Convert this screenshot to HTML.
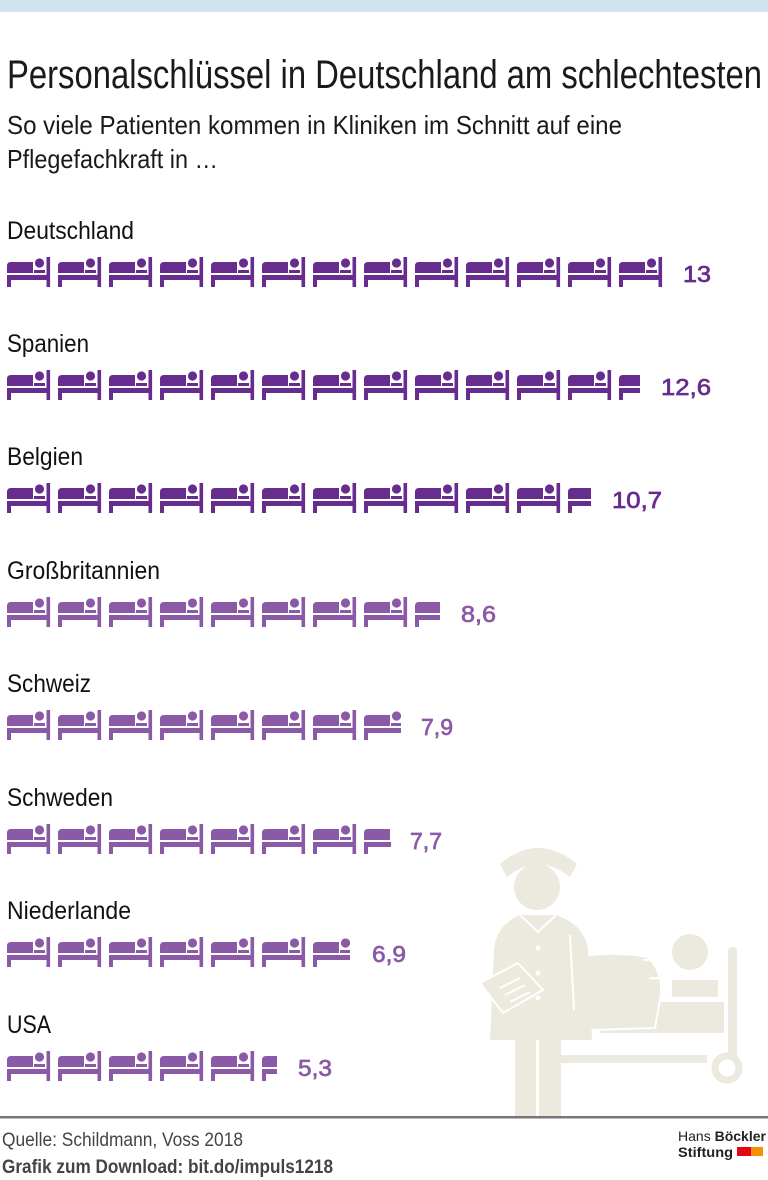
<!DOCTYPE html>
<html><head><meta charset="utf-8"><style>
html,body{margin:0;padding:0;background:#fff;}
svg{display:block;}
text{font-family:"Liberation Sans",sans-serif;}
.v{font-size:23px;stroke-width:0.7px;}
</style></head><body>
<svg width="768" height="1180" viewBox="0 0 768 1180" xmlns="http://www.w3.org/2000/svg">
<defs>
<g id="bed">
<path d="M0,9 Q0,5 4,5 L26,5 L26,16 L0,16 Z"/>
<circle cx="32.5" cy="6" r="4.6"/>
<rect x="27" y="13" width="11" height="3"/>
<rect x="39.5" y="0" width="3.6" height="30"/>
<rect x="0" y="18" width="43" height="5"/>
<rect x="0" y="18" width="4" height="12"/>
</g>
</defs>
<rect x="0" y="0" width="768" height="12" fill="#cfe4ef"/>

<!-- nurse illustration -->
<g fill="#ece9df">
<rect x="557" y="1055" width="150" height="8"/>
<rect x="728" y="947" width="9" height="112" rx="4"/>
<circle cx="727" cy="1068" r="12" fill="none" stroke="#ece9df" stroke-width="7"/>
<rect x="600" y="1002" width="124" height="31"/>
<rect x="672" y="980" width="46" height="17"/>
<circle cx="690" cy="952" r="18"/>
<path d="M575,958 Q610,950 648,957 Q665,975 660,1000 L655,1028 L590,1030 Q580,1000 575,958 Z" stroke="#fff" stroke-width="2"/>
<path d="M643,960 Q660,958 667,970 Q662,980 650,978" fill="none" stroke="#fff" stroke-width="2"/>
<rect x="515" y="1030" width="21" height="87"/>
<rect x="539" y="1030" width="22" height="87"/>
<path d="M520,915 L556,915 Q585,925 588,950 L592,1040 L490,1040 L494,950 Q496,925 520,915 Z"/>
<path d="M570,935 L574,1010" stroke="#fff" stroke-width="2" fill="none"/>
<path d="M520,915 L538,932 L556,915" stroke="#fff" stroke-width="2" fill="none"/>
<circle cx="538" cy="948" r="2.5" fill="#fff"/>
<circle cx="538" cy="973" r="2.5" fill="#fff"/>
<circle cx="538" cy="998" r="2.5" fill="#fff"/>
<path d="M480,983 L518,963 L543,990 L503,1013 Z" stroke="#fff" stroke-width="2"/>
<path d="M500,988 L520,978 M505,995 L525,985 M510,1002 L530,992" stroke="#fff" stroke-width="2" fill="none"/>
<circle cx="537" cy="887" r="24" stroke="#fff" stroke-width="2"/>
<path d="M500,864 Q538,832 577,864 L570,877 Q538,852 507,877 Z"/>
</g>

<text x="7" y="88" font-size="40" fill="#1a1a1a" textLength="755" lengthAdjust="spacingAndGlyphs">Personalschlüssel in Deutschland am schlechtesten</text>
<text x="7" y="134" font-size="26" fill="#1a1a1a" textLength="615" lengthAdjust="spacingAndGlyphs">So viele Patienten kommen in Kliniken im Schnitt auf eine</text>
<text x="7" y="168" font-size="26" fill="#1a1a1a" textLength="211" lengthAdjust="spacingAndGlyphs">Pflegefachkraft in …</text>

<text x="7" y="239" font-size="25" fill="#111" textLength="127" lengthAdjust="spacingAndGlyphs">Deutschland</text>
<g fill="#662d8f" stroke="none">
<use href="#bed" x="7" y="257"/><use href="#bed" x="58" y="257"/><use href="#bed" x="109" y="257"/><use href="#bed" x="160" y="257"/><use href="#bed" x="211" y="257"/><use href="#bed" x="262" y="257"/><use href="#bed" x="313" y="257"/><use href="#bed" x="364" y="257"/><use href="#bed" x="415" y="257"/><use href="#bed" x="466" y="257"/><use href="#bed" x="517" y="257"/><use href="#bed" x="568" y="257"/><use href="#bed" x="619" y="257"/>
<text class="v" stroke="#662d8f" x="683" y="282" textLength="28" lengthAdjust="spacingAndGlyphs">13</text>
</g>

<text x="7" y="352" font-size="25" fill="#111" textLength="82" lengthAdjust="spacingAndGlyphs">Spanien</text>
<g fill="#662d8f">
<use href="#bed" x="7" y="370"/><use href="#bed" x="58" y="370"/><use href="#bed" x="109" y="370"/><use href="#bed" x="160" y="370"/><use href="#bed" x="211" y="370"/><use href="#bed" x="262" y="370"/><use href="#bed" x="313" y="370"/><use href="#bed" x="364" y="370"/><use href="#bed" x="415" y="370"/><use href="#bed" x="466" y="370"/><use href="#bed" x="517" y="370"/><use href="#bed" x="568" y="370"/>
<svg x="619" y="370" width="21" height="30"><use href="#bed"/></svg>
<text class="v" stroke="#662d8f" x="661" y="395" textLength="50" lengthAdjust="spacingAndGlyphs">12,6</text>
</g>

<text x="7" y="465" font-size="25" fill="#111" textLength="76" lengthAdjust="spacingAndGlyphs">Belgien</text>
<g fill="#662d8f">
<use href="#bed" x="7" y="483"/><use href="#bed" x="58" y="483"/><use href="#bed" x="109" y="483"/><use href="#bed" x="160" y="483"/><use href="#bed" x="211" y="483"/><use href="#bed" x="262" y="483"/><use href="#bed" x="313" y="483"/><use href="#bed" x="364" y="483"/><use href="#bed" x="415" y="483"/><use href="#bed" x="466" y="483"/><use href="#bed" x="517" y="483"/>
<svg x="568" y="483" width="23" height="30"><use href="#bed"/></svg>
<text class="v" stroke="#662d8f" x="612" y="508" textLength="50" lengthAdjust="spacingAndGlyphs">10,7</text>
</g>

<text x="7" y="579" font-size="25" fill="#111" textLength="153" lengthAdjust="spacingAndGlyphs">Großbritannien</text>
<g fill="#8b5aa7">
<use href="#bed" x="7" y="597"/><use href="#bed" x="58" y="597"/><use href="#bed" x="109" y="597"/><use href="#bed" x="160" y="597"/><use href="#bed" x="211" y="597"/><use href="#bed" x="262" y="597"/><use href="#bed" x="313" y="597"/><use href="#bed" x="364" y="597"/>
<svg x="415" y="597" width="25" height="30"><use href="#bed"/></svg>
<text class="v" stroke="#8b5aa7" x="461" y="622" textLength="35" lengthAdjust="spacingAndGlyphs">8,6</text>
</g>

<text x="7" y="692" font-size="25" fill="#111" textLength="84" lengthAdjust="spacingAndGlyphs">Schweiz</text>
<g fill="#8b5aa7">
<use href="#bed" x="7" y="710"/><use href="#bed" x="58" y="710"/><use href="#bed" x="109" y="710"/><use href="#bed" x="160" y="710"/><use href="#bed" x="211" y="710"/><use href="#bed" x="262" y="710"/><use href="#bed" x="313" y="710"/>
<svg x="364" y="710" width="37" height="30"><use href="#bed"/></svg>
<text class="v" stroke="#8b5aa7" x="421" y="735" textLength="32" lengthAdjust="spacingAndGlyphs">7,9</text>
</g>

<text x="7" y="806" font-size="25" fill="#111" textLength="106" lengthAdjust="spacingAndGlyphs">Schweden</text>
<g fill="#8b5aa7">
<use href="#bed" x="7" y="824"/><use href="#bed" x="58" y="824"/><use href="#bed" x="109" y="824"/><use href="#bed" x="160" y="824"/><use href="#bed" x="211" y="824"/><use href="#bed" x="262" y="824"/><use href="#bed" x="313" y="824"/>
<svg x="364" y="824" width="27" height="30"><use href="#bed"/></svg>
<text class="v" stroke="#8b5aa7" x="410" y="849" textLength="32" lengthAdjust="spacingAndGlyphs">7,7</text>
</g>

<text x="7" y="919" font-size="25" fill="#111" textLength="124" lengthAdjust="spacingAndGlyphs">Niederlande</text>
<g fill="#8b5aa7">
<use href="#bed" x="7" y="937"/><use href="#bed" x="58" y="937"/><use href="#bed" x="109" y="937"/><use href="#bed" x="160" y="937"/><use href="#bed" x="211" y="937"/><use href="#bed" x="262" y="937"/>
<svg x="313" y="937" width="37" height="30"><use href="#bed"/></svg>
<text class="v" stroke="#8b5aa7" x="372" y="962" textLength="34" lengthAdjust="spacingAndGlyphs">6,9</text>
</g>

<text x="7" y="1033" font-size="25" fill="#111" textLength="44" lengthAdjust="spacingAndGlyphs">USA</text>
<g fill="#8b5aa7">
<use href="#bed" x="7" y="1051"/><use href="#bed" x="58" y="1051"/><use href="#bed" x="109" y="1051"/><use href="#bed" x="160" y="1051"/><use href="#bed" x="211" y="1051"/>
<svg x="262" y="1051" width="15" height="30"><use href="#bed"/></svg>
<text class="v" stroke="#8b5aa7" x="298" y="1076" textLength="34" lengthAdjust="spacingAndGlyphs">5,3</text>
</g>

<rect x="0" y="1116" width="768" height="2.5" fill="#777"/>
<text x="2" y="1146" font-size="19" fill="#444" textLength="241" lengthAdjust="spacingAndGlyphs">Quelle: Schildmann, Voss 2018</text>
<text x="2" y="1173" font-size="19" font-weight="bold" fill="#444" textLength="331" lengthAdjust="spacingAndGlyphs">Grafik zum Download: bit.do/impuls1218</text>
<text x="678" y="1141" font-size="14" fill="#222" textLength="88" lengthAdjust="spacingAndGlyphs">Hans <tspan font-weight="bold">Böckler</tspan></text>
<text x="678" y="1157" font-size="14" font-weight="bold" fill="#222" textLength="55" lengthAdjust="spacingAndGlyphs">Stiftung</text>
<rect x="737" y="1147" width="14" height="9" fill="#e30613"/>
<rect x="751" y="1147" width="12" height="9" fill="#f39200"/>
</svg>
</body></html>
